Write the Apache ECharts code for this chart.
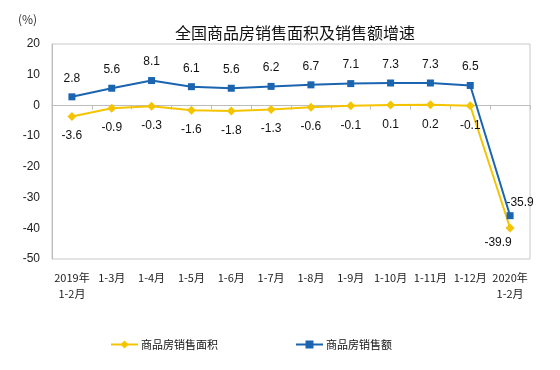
<!DOCTYPE html>
<html><head><meta charset="utf-8">
<script src="https://cdn.jsdelivr.net/npm/echarts@6/dist/echarts.min.js"></script>
<style>html,body{margin:0;padding:0;background:#fff}#c{width:560px;height:370px}</style>
</head><body><div id="c"></div>
<script>
var categories = ['2019年\n1-2月','1-3月','1-4月','1-5月','1-6月','1-7月','1-8月','1-9月','1-10月','1-11月','1-12月','2020年\n1-2月'];
var areaGrowth = [-3.6, -0.9, -0.3, -1.6, -1.8, -1.3, -0.6, -0.1, 0.1, 0.2, -0.1, -39.9];
var salesGrowth = [2.8, 5.6, 8.1, 6.1, 5.6, 6.2, 6.7, 7.1, 7.3, 7.3, 6.5, -35.9];
var yTicks = [-50, 20, 10];
var seriesNames = ['商品房销售面积', '商品房销售额'];
var titleText = '全国商品房销售面积及销售额增速';
var unitText = '(%)';

var font = '"Noto Sans CJK SC", "Noto Sans", sans-serif';
var chart = echarts.init(document.getElementById('c'));
var lastIdx = categories.length - 1;

function buildData(vals, lastLabel) {
  return vals.map(function (v, i) {
    if (i === lastIdx) return { value: v, label: lastLabel };
    return v;
  });
}

chart.setOption({
  animation: false,
  title: {
    text: titleText, left: 290, top: 20, textAlign: 'center',
    textStyle: { fontFamily: font, fontSize: 16, fontWeight: 'normal', color: '#111' }
  },
  graphic: [{
    type: 'text', left: 18, top: 13,
    style: { text: unitText, font: '12px ' + font, fill: '#333' }
  }],
  legend: {
    top: 334, left: 105, itemGap: 77, itemWidth: 27, itemHeight: 10,
    textStyle: { fontFamily: font, fontSize: 11, color: '#111', padding: [0, 0, 0, -2] },
    data: seriesNames
  },
  grid: { left: 52, right: 30, top: 44, bottom: 111, show: true, borderColor: '#c8c8c8', borderWidth: 1, containLabel: false },
  xAxis: {
    type: 'category', data: categories, boundaryGap: true,
    axisLine: { lineStyle: { color: '#bdbdbd' } },
    axisTick: { show: true, alignWithLabel: false, length: 4, lineStyle: { color: '#bdbdbd' } },
    axisLabel: { interval: 0, fontFamily: font, fontSize: 11, color: '#222', margin: 11, lineHeight: 16 }
  },
  yAxis: {
    type: 'value', min: yTicks[0], max: yTicks[1], interval: yTicks[2],
    axisLine: { show: true, lineStyle: { color: '#bdbdbd' } },
    axisTick: { show: false },
    splitLine: { show: false },
    axisLabel: { fontFamily: '"Liberation Sans", Arial, sans-serif', fontSize: 12, color: '#222', margin: 12 }
  },
  series: [{
    name: seriesNames[0], type: 'line', data: buildData(areaGrowth, { position: 'bottom', offset: [-12, -5] }),
    symbol: 'diamond', symbolSize: 9,
    itemStyle: { color: '#f5c400' }, lineStyle: { width: 2, color: '#f5c400' },
    label: { show: true, position: 'bottom', distance: 9, fontFamily: '"Liberation Sans", Arial, sans-serif', fontSize: 12, color: '#111' },
    z: 2
  }, {
    name: seriesNames[1], type: 'line', data: buildData(salesGrowth, { position: 'top', offset: [10, 5] }),
    symbol: 'rect', symbolSize: 7,
    itemStyle: { color: '#1a64b0' }, lineStyle: { width: 2, color: '#1a64b0' },
    label: { show: true, position: 'top', distance: 9, fontFamily: '"Liberation Sans", Arial, sans-serif', fontSize: 12, color: '#111' },
    z: 3
  }]
});
</script></body></html>
